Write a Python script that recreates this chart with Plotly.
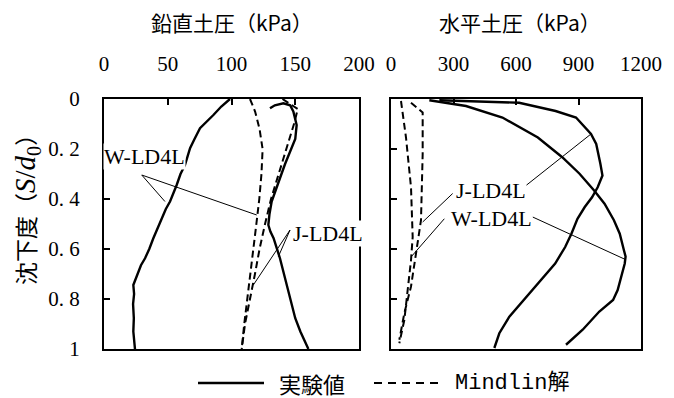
import plotly.graph_objects as go

# ---- vertical earth pressure (kPa) vs settlement ratio S/d0 ----
w_vert_exp_p = [98.8, 92.0, 85.8, 80.5, 75.3, 71.0, 67.5, 63.5, 60.0, 57.0, 54.0, 51.8, 48.5,
                45.2, 42.0, 38.7, 35.5, 32.2, 29.0, 26.9, 24.5, 23.0, 23.6, 22.8, 23.4, 23.0, 24.3]
w_vert_exp_s = [0.0, 0.03, 0.064, 0.09, 0.117, 0.16, 0.197, 0.264, 0.30, 0.344, 0.38, 0.41, 0.44,
                0.477, 0.52, 0.557, 0.60, 0.637, 0.665, 0.69, 0.72, 0.744, 0.78, 0.82, 0.877, 0.93, 1.0]

j_vert_exp_p = [130.2, 134.0, 140.7, 146.0, 148.5, 151.1, 150.0, 145.9, 142.0, 138.0, 135.0, 131.5,
                129.8, 128.9, 130.5, 133.0, 138.0, 141.0, 143.3, 145.0, 146.5, 150.0, 154.0, 160.3]
j_vert_exp_s = [0.037, 0.025, 0.017, 0.025, 0.05, 0.104, 0.16, 0.21, 0.26, 0.317, 0.36, 0.41,
                0.46, 0.504, 0.53, 0.557, 0.637, 0.70, 0.744, 0.78, 0.81, 0.877, 0.93, 1.0]

w_vert_mind_p = [114.5, 118.5, 122.0, 124.4, 123.5, 121.8, 119.5, 117.1, 114.5, 111.9, 110.0, 108.0]
w_vert_mind_s = [0.0, 0.05, 0.12, 0.2, 0.3, 0.4, 0.5, 0.6, 0.7, 0.8, 0.9, 1.0]

j_vert_mind_p = [140.0, 146.0, 152.0, 149.0, 143.0, 137.0, 131.0, 126.3, 122.0, 118.4, 114.5, 110.6, 108.0]
j_vert_mind_s = [0.0, 0.02, 0.04, 0.1, 0.2, 0.3, 0.4, 0.5, 0.6, 0.7, 0.8, 0.9, 1.0]

# ---- horizontal earth pressure (kPa) vs settlement ratio S/d0 ----
w_horz_exp_p = [184, 360, 535, 705, 822, 905, 975, 1025, 1070, 1098, 1118, 1126, 1122,
                1100, 1088, 1066, 1000, 920, 840]
w_horz_exp_s = [0.005, 0.028, 0.074, 0.154, 0.233, 0.299, 0.366, 0.419, 0.485, 0.539, 0.605,
                0.63, 0.658, 0.725, 0.764, 0.804, 0.85, 0.923, 0.983]

j_horz_exp_p = [232, 615, 790, 888, 960, 985, 1005, 1015, 992, 965, 930, 895, 866, 836,
                788, 720, 636, 568, 520, 496]
j_horz_exp_s = [0.005, 0.015, 0.048, 0.074, 0.14, 0.18, 0.259, 0.306, 0.353, 0.393, 0.432,
                0.479, 0.539, 0.592, 0.658, 0.725, 0.804, 0.871, 0.937, 0.996]

w_horz_mind_p = [48, 72, 96, 104, 96, 80, 64, 40]
w_horz_mind_s = [0.008, 0.154, 0.353, 0.552, 0.645, 0.778, 0.884, 0.977]

j_horz_mind_p = [96, 152, 152, 144, 120, 96, 64, 40]
j_horz_mind_s = [0.015, 0.054, 0.22, 0.485, 0.618, 0.75, 0.857, 0.963]

# ---- axis ticks ----
vert_ticks = [0, 50, 100, 150, 200]
horz_ticks = [0, 300, 600, 900, 1200]
s_ticks = [0, 0.2, 0.4, 0.6, 0.8, 1.0]
s_ticktext = ["0", "0. 2", "0. 4", "0. 6", "0. 8", "1"]

# ---- case labels and their leader lines (data coordinates) ----
left_labels = [("W-LD4L", 32, 0.228), ("J-LD4L", 176, 0.536)]
left_leaders = [
    [(29.6, 0.304), (47.8, 0.41)],
    [(29.6, 0.304), (119.8, 0.464)],
    [(145.9, 0.524), (136.7, 0.631)],
    [(145.9, 0.524), (117.1, 0.744)],
]
right_labels = [("J-LD4L", 480, 0.366), ("W-LD4L", 480, 0.479)]
right_leaders = [
    [(648, 0.346), (960, 0.14)],
    [(296, 0.378), (152, 0.492)],
    [(256, 0.479), (96, 0.632)],
    [(680, 0.472), (1120, 0.64)],
]

W, H = 674, 398
SERIF = "Liberation Serif, Times New Roman, serif"
CJK = "Noto Sans CJK JP"
MONO = "Liberation Mono, DejaVu Sans Mono"


def px(x):
    return x / W


def py(y):
    return 1 - y / H


fig = go.Figure()

solid = dict(color="black", width=2.4)
dash = dict(color="black", width=2, dash="7px,4px")

fig.add_trace(go.Scatter(x=w_vert_exp_p, y=w_vert_exp_s, mode="lines", line=solid, xaxis="x", yaxis="y"))
fig.add_trace(go.Scatter(x=j_vert_exp_p, y=j_vert_exp_s, mode="lines", line=solid, xaxis="x", yaxis="y"))
fig.add_trace(go.Scatter(x=w_vert_mind_p, y=w_vert_mind_s, mode="lines", line=dash, xaxis="x", yaxis="y"))
fig.add_trace(go.Scatter(x=j_vert_mind_p, y=j_vert_mind_s, mode="lines", line=dash, xaxis="x", yaxis="y"))

fig.add_trace(go.Scatter(x=w_horz_exp_p, y=w_horz_exp_s, mode="lines", line=solid, xaxis="x2", yaxis="y2"))
fig.add_trace(go.Scatter(x=j_horz_exp_p, y=j_horz_exp_s, mode="lines", line=solid, xaxis="x2", yaxis="y2"))
fig.add_trace(go.Scatter(x=w_horz_mind_p, y=w_horz_mind_s, mode="lines", line=dash, xaxis="x2", yaxis="y2"))
fig.add_trace(go.Scatter(x=j_horz_mind_p, y=j_horz_mind_s, mode="lines", line=dash, xaxis="x2", yaxis="y2"))

# leader lines from the case labels
for seg in left_leaders:
    fig.add_trace(go.Scatter(x=[p[0] for p in seg], y=[p[1] for p in seg], mode="lines",
                             line=dict(color="black", width=1), xaxis="x", yaxis="y"))
for seg in right_leaders:
    fig.add_trace(go.Scatter(x=[p[0] for p in seg], y=[p[1] for p in seg], mode="lines",
                             line=dict(color="black", width=1), xaxis="x2", yaxis="y2"))

x_dom1 = [px(104), px(359)]
x_dom2 = [px(391), px(641)]
y_dom = [py(349), py(99)]

common_x = dict(side="top", ticks="inside", ticklen=6, tickwidth=1.5, tickcolor="black",
                showline=True, linecolor="black", linewidth=2, mirror=True, showgrid=False,
                zeroline=False, tickfont=dict(family=SERIF, size=21, color="black"),
                ticklabelstandoff=18, fixedrange=True)
common_y = dict(autorange=False, range=[1, 0], ticks="inside", ticklen=6, tickwidth=1.5,
                tickcolor="black", showline=True, linecolor="black", linewidth=2, mirror=True,
                showgrid=False, zeroline=False, tickvals=s_ticks, domain=y_dom, fixedrange=True)

fig.update_layout(
    width=W, height=H, margin=dict(l=0, r=0, t=0, b=0, autoexpand=False),
    paper_bgcolor="white", plot_bgcolor="white", showlegend=False,
    xaxis=dict(domain=x_dom1, range=[0, 200], tickvals=vert_ticks, anchor="y", **common_x),
    xaxis2=dict(domain=x_dom2, range=[0, 1200], tickvals=horz_ticks, anchor="y2", **common_x),
    yaxis=dict(anchor="x", ticktext=s_ticktext, showticklabels=True,
               tickfont=dict(family=SERIF, size=21, color="black"), ticklabelstandoff=18, **common_y),
    yaxis2=dict(anchor="x2", showticklabels=False, **common_y),
)

ann = []
for text, x, y in left_labels:
    ann.append(dict(text=text, x=x, y=y, xref="x", yref="y", showarrow=False, bgcolor="white",
                    xanchor="center", yanchor="middle", borderpad=0,
                    font=dict(family=SERIF, size=22, color="black")))
for text, x, y in right_labels:
    ann.append(dict(text=text, x=x, y=y, xref="x2", yref="y2", showarrow=False, bgcolor="white",
                    xanchor="center", yanchor="middle", borderpad=0,
                    font=dict(family=SERIF, size=22, color="black")))

# panel titles
ann.append(dict(text="鉛直土圧（kPa）", x=px(232), y=py(22), xref="paper", yref="paper",
                xanchor="center", yanchor="middle", showarrow=False,
                font=dict(family=CJK, size=21, color="black")))
ann.append(dict(text="水平土圧（kPa）", x=px(520), y=py(22), xref="paper", yref="paper",
                xanchor="center", yanchor="middle", showarrow=False,
                font=dict(family=CJK, size=21, color="black")))
# y-axis title
ann.append(dict(text="沈下度（<span style=\"font-family:'Liberation Serif';font-size:29px\">"
                     "<i>S</i>/<i>d</i><sub>0</sub></span>）",
                x=px(26), y=py(204), xref="paper", yref="paper", textangle=-90, showarrow=False,
                xanchor="center", yanchor="middle",
                font=dict(family=CJK, size=23, color="black")))

# legend
shapes = [
    dict(type="line", xref="paper", yref="paper", x0=px(198), x1=px(264), y0=py(383), y1=py(383),
         line=dict(color="black", width=2.4)),
    dict(type="line", xref="paper", yref="paper", x0=px(374), x1=px(443), y0=py(383), y1=py(383),
         line=dict(color="black", width=2, dash="8px,6px")),
]
ann.append(dict(text="実験値", x=px(277), y=py(383), xref="paper", yref="paper",
                xanchor="left", yanchor="middle", showarrow=False,
                font=dict(family=CJK, size=22, color="black")))
ann.append(dict(text="Mindlin解", x=px(453), y=py(383), xref="paper", yref="paper",
                xanchor="left", yanchor="middle", showarrow=False,
                font=dict(family=MONO + ", " + CJK, size=22, color="black")))

fig.update_layout(annotations=ann, shapes=shapes)

fig.write_html("out.html")
